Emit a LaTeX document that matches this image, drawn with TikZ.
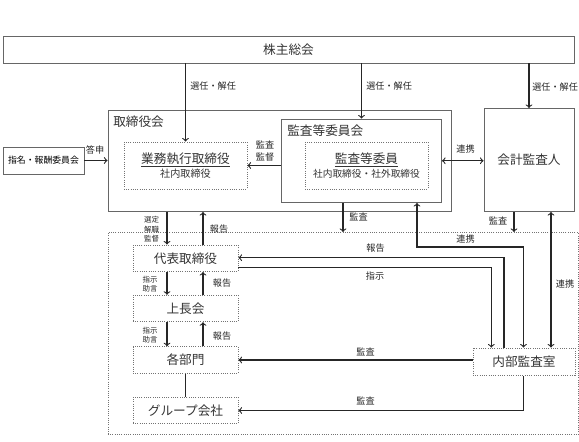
\documentclass[tikz,border=0pt]{standalone}
\usepackage{fontspec}
\setmainfont{Noto Sans CJK JP}

\begin{document}
\begin{tikzpicture}
  [x=0.025cm,y=-0.025cm,
   % Styles
   box/.style={draw=black!60,line width=0.6pt,inner sep=0pt},
   dotbox/.style={draw=black!55,densely dotted,line width=0.6pt,inner sep=0pt},
   unit box/.style={dotbox,minimum width=2.625cm,minimum height=0.6625cm},
   conn/.style={black!85,line width=0.8pt},
   big text/.style={font=\fontsize{9}{11}\selectfont,text=black!80},
   small text/.style={font=\fontsize{6.5}{8}\selectfont,text=black!85,inner sep=0pt,align=center},
   tiny text/.style={font=\fontsize{5.3}{6.6}\selectfont,text=black!85,inner sep=0pt,align=center}]

  \useasboundingbox (0,0) rectangle (579,441);

  % upper part
  \node[box,minimum width=14.275cm,minimum height=0.675cm,big text] (meeting) at (288.5,49.5) {株主総会};
  \node[box,minimum width=8.575cm,minimum height=2.5375cm] (board) at (279.5,160.75) {};
  \node[big text,anchor=west,inner sep=0pt] (boardlbl) at (113,122) {取締役会};
  \node[dotbox,minimum width=3.075cm,minimum height=1.175cm,big text,align=center] (exec) at (185.5,165.5)
    {\underline{業務執行取締役}\\[-1pt]{\fontsize{7.2}{9}\selectfont 社内取締役}};
  \node[box,minimum width=4cm,minimum height=2.0875cm] (acomm) at (361.5,160.75) {};
  \node[big text,anchor=west,inner sep=0pt] (acommlbl) at (287,131) {監査等委員会};
  \node[dotbox,minimum width=3.075cm,minimum height=1.175cm,big text,align=center] (amember) at (366.5,165.5)
    {\underline{監査等委員}\\[-1pt]{\fontsize{6.9}{9}\selectfont 社内取締役・社外取締役}};
  \node[box,minimum width=2.25cm,minimum height=2.575cm,big text] (cpa) at (529,160) {会計監査人};
  \node[box,minimum width=2.025cm,minimum height=0.675cm,font=\fontsize{6.3}{8}\selectfont] (nomin) at (43.5,160.5) {指名・報酬委員会};

  % lower part
  \node[dotbox,minimum width=11.75cm,minimum height=5.05cm] (group) at (343,333.5) {};
  \node[unit box,big text] (ceo) at (185.5,258.25) {代表取締役};
  \node[unit box,big text] (mgmt) at (185.5,308.5) {上長会};
  \node[unit box,big text] (depts) at (185.5,360) {各部門};
  \node[unit box,big text] (subs) at (185.5,410.5) {グループ会社};
  \node[dotbox,minimum width=2.55cm,minimum height=0.6875cm,big text] (audit) at (524,361.75) {内部監査室};

  % columns and bends
  \coordinate (down) at (167,0);
  \coordinate (up) at (203,0);
  \coordinate (aud1) at (343,0);
  \coordinate (aud2) at (514,0);
  \coordinate (lk3) at (551,0);
  \coordinate (lk1) at (417,247);
  \coordinate (lk2) at (523.5,247);
  \coordinate (rp) at (504,257.7);
  \coordinate (ip) at (491.3,267.3);

  % from the shareholders
  \draw[conn,->] (meeting.south -| exec) -- (exec.north);
  \draw[conn,->] (meeting.south -| acomm) -- (acomm.north);
  \draw[conn,->] (meeting.south -| cpa) -- (cpa.north);
  \node[small text,anchor=west] (l1) at (190,86) {選任・解任};
  \node[small text,anchor=west] (l2) at (366,86) {選任・解任};
  \node[small text,anchor=west] (l3) at (532,87) {選任・解任};

  \draw[conn,->] (nomin.east) -- (nomin.east -| board.west);
  \node[small text] (l4) at (95,150) {答申};
  \draw[conn,->] (acomm.west |- exec) -- (exec.east);
  \node[small text] (l5) at (265,151) {監査\\監督};
  \draw[conn,<->] (acomm.east) -- (acomm.east -| cpa.west);
  \node[small text] (l6) at (465.5,149) {連携};

  % board and line organisation
  \draw[conn,->] (board.south -| down) -- (ceo.north -| down);
  \draw[conn,->] (ceo.north -| up) -- (board.south -| up);
  \draw[conn,->] (ceo.south -| down) -- (mgmt.north -| down);
  \draw[conn,->] (mgmt.north -| up) -- (ceo.south -| up);
  \draw[conn,->] (mgmt.south -| down) -- (depts.north -| down);
  \draw[conn,->] (depts.north -| up) -- (mgmt.south -| up);
  \draw[conn] (depts.south) -- (subs.north);
  \node[tiny text] (l7) at (151.5,229.3) {選定\\解職\\監督};
  \node[small text] (l8) at (219,229.3) {報告};
  \node[tiny text] (l9) at (150,284) {指示\\助言};
  \node[small text] (l10) at (222,283) {報告};
  \node[tiny text] (l11) at (150,335) {指示\\助言};
  \node[small text] (l12) at (222,336) {報告};

  % audits
  \draw[conn,->] (acomm.south -| aud1) -- (group.north -| aud1);
  \node[small text] (l13) at (358.5,217.3) {監査};
  \draw[conn,->] (cpa.south -| aud2) -- (group.north -| aud2);
  \node[small text] (l14) at (498,221) {監査};
  \draw[conn,<->] (cpa.south -| lk3) -- (audit.north -| lk3);
  \node[small text] (l15) at (565,284.3) {連携};
  \draw[conn,<->] (acomm.south -| lk1) -- (lk1) -- (lk2) -- (audit.north -| lk2);
  \node[small text] (l16) at (465.5,239.3) {連携};
  \draw[conn,->] (audit.north -| rp) -- (rp) -- (ceo.east |- rp);
  \node[small text] (l17) at (375.5,248.3) {報告};
  \draw[conn,->] (ceo.east |- ip) -- (ip) -- (audit.north -| ip);
  \node[small text] (l18) at (375,276) {指示};
  \draw[conn,->] (audit.west |- depts) -- (depts.east);
  \node[small text] (l19) at (365.5,351.7) {監査};
  \draw[conn,->] (audit.south -| lk2) |- (subs.east);
  \node[small text] (l20) at (365.5,401) {監査};
\end{tikzpicture}
\end{document}
